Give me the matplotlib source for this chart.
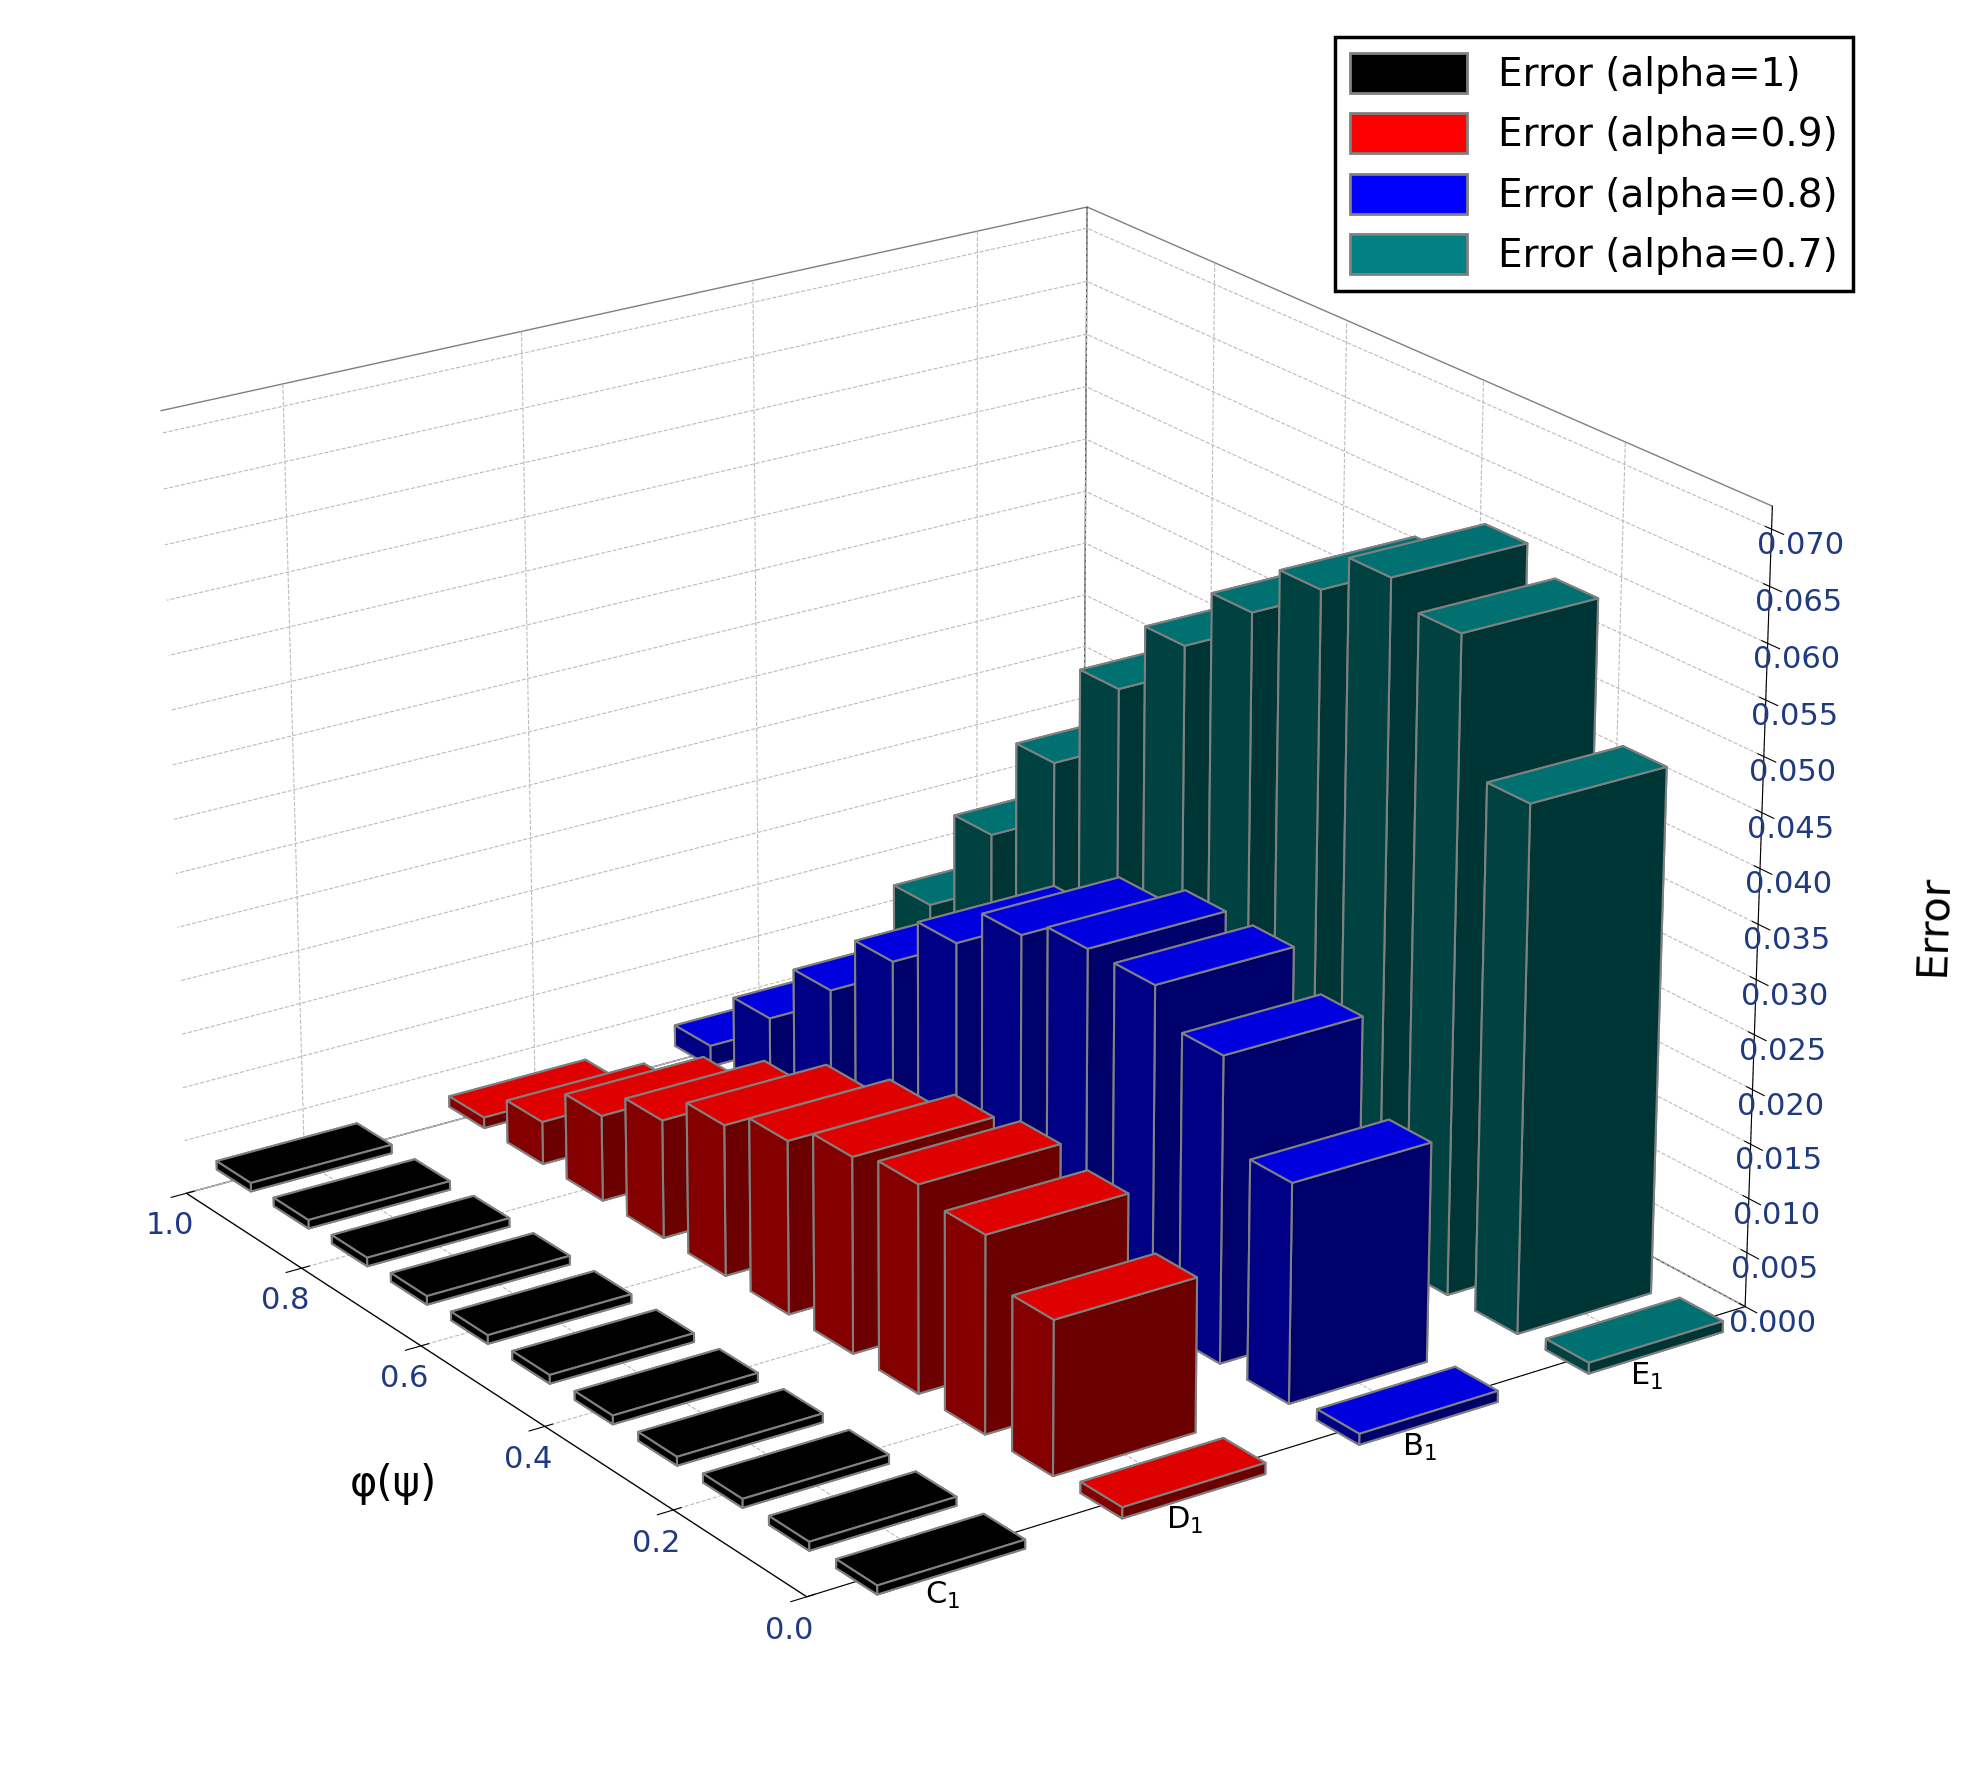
import numpy as np
import matplotlib.pyplot as plt
from matplotlib.patches import Patch
from matplotlib.colors import LightSource

phi = [0.0, 0.1, 0.2, 0.3, 0.4, 0.5, 0.6, 0.7, 0.8, 0.9, 1.0]
categories = ["C$_1$", "D$_1$", "B$_1$", "E$_1$"]
series_names = ["Error (alpha=1)", "Error (alpha=0.9)", "Error (alpha=0.8)", "Error (alpha=0.7)"]
# values listed from phi=0.0 to phi=1.0
err_a1 = [0.0008] * 11
err_a09 = [0.001, 0.014, 0.018, 0.019, 0.018, 0.016, 0.014, 0.011, 0.008, 0.004, 0.001]
err_a08 = [0.001, 0.020, 0.028, 0.031, 0.031, 0.029, 0.025, 0.020, 0.014, 0.008, 0.002]
err_a07 = [0.001, 0.048, 0.060, 0.062, 0.058, 0.053, 0.047, 0.040, 0.030, 0.020, 0.010]
colors = ["#000000", "#ff0000", "#0000ff", "#008080"]

fig = plt.figure(figsize=(19.61, 17.68), dpi=100)
ax = fig.add_subplot(111, projection="3d")
ax.set_position([0.0, 0.0, 0.95, 1.0])

ls = LightSource(azdeg=60, altdeg=40)
for j, vals in enumerate([err_a1, err_a09, err_a08, err_a07]):
    xs = np.array(phi) - 0.03
    ys = np.full(len(phi), j) - 0.3
    ax.bar3d(xs, ys, np.zeros(len(phi)), 0.06, 0.6, vals, color=colors[j],
             edgecolor="#808080", linewidth=1.5, shade=True, lightsource=ls)

ax.set_xlim(1.0, 0.0)
ax.set_ylim(-0.5, 3.5)
ax.set_zlim(0, 0.072)
ax.set_xticks([0.0, 0.2, 0.4, 0.6, 0.8, 1.0])
ax.set_xticklabels(["0.0", "0.2", "0.4", "0.6", "0.8", "1.0"], color="#1f3a80")
ax.set_yticks(range(4))
ax.set_yticklabels(categories)
ax.set_zticks(np.arange(0, 0.0701, 0.005))
ax.set_zticklabels([f"{v:.3f}" for v in np.arange(0, 0.0701, 0.005)], color="#1f3a80")
ax.tick_params(labelsize=22)
ax.set_xlabel("φ(ψ)", fontsize=30, labelpad=40)
ax.set_zlabel("Error", fontsize=30, labelpad=50)
ax.view_init(elev=22, azim=-35)
for a in (ax.xaxis, ax.yaxis, ax.zaxis):
    a.pane.set_facecolor("white")
    a.pane.set_edgecolor("black")
    a.line.set_color("black")
    a._axinfo["grid"]["linestyle"] = "--"
    a._axinfo["grid"]["color"] = "#bbbbbb"

handles = [Patch(facecolor=c, edgecolor="#808080", linewidth=2) for c in colors]
leg = fig.legend(handles, series_names, loc="upper right", bbox_to_anchor=(0.955, 0.99),
                 fontsize=28, handlelength=3, handleheight=1.2, fancybox=False,
                 edgecolor="black", framealpha=1)
leg.get_frame().set_linewidth(2.5)

fig.savefig("out.png", dpi=100)
